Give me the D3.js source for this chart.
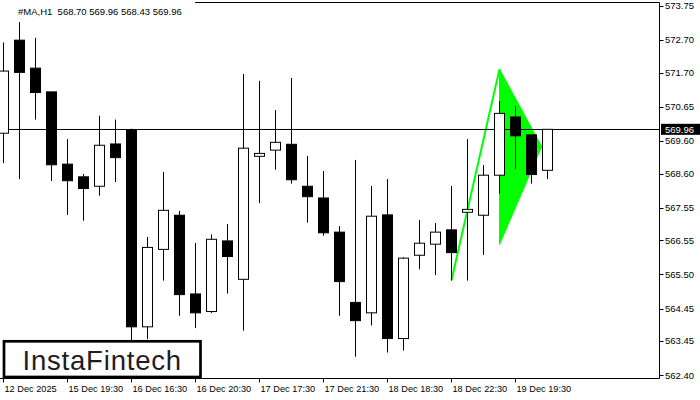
<!DOCTYPE html>
<html>
<head>
<meta charset="utf-8">
<script src="https://cdn.jsdelivr.net/npm/d3@7"></script>
<style>
  html, body { margin: 0; padding: 0; background: #fff; }
  svg { display: block; }
  text { font-family: "Liberation Sans", Arial, sans-serif; }
</style>
</head>
<body>
<div id="chart"></div>
<script>
// ---- data (H1 candles, left to right) ----
const opens  = [569.84,572.70,571.84,571.11,568.89,568.50,568.21,569.51,569.95,563.89,566.27,567.32,564.90,564.36,566.53,565.35,569.13,569.32,569.50,568.21,567.85,566.80,564.64,564.32,567.33,563.53,566.09,566.43,566.87,567.41,567.32,568.55,570.34,569.79,568.70];
const highs  = [572.63,573.26,572.77,571.11,569.66,568.59,570.38,570.26,569.98,566.65,568.65,567.45,566.47,566.73,567.05,571.66,571.45,570.55,571.54,569.14,568.68,566.99,569.02,568.22,568.43,566.03,567.17,567.08,568.22,569.66,568.86,570.83,570.68,569.79,569.96];
const lows   = [568.92,568.43,570.26,568.37,567.33,567.15,567.92,568.34,563.45,563.51,565.31,564.23,563.85,564.31,564.91,563.77,567.69,568.72,568.29,567.09,566.69,564.23,562.97,563.93,563.10,563.16,565.66,565.48,565.31,565.31,566.10,567.99,568.75,568.29,568.43];
const closes = [571.75,571.71,571.09,568.87,568.38,568.14,569.47,569.09,563.89,566.33,567.47,564.88,564.32,566.58,566.05,569.38,569.22,569.56,568.41,567.89,566.78,565.28,564.08,567.29,563.53,566.00,566.46,566.80,566.17,567.50,568.55,570.45,569.76,568.57,569.96];

const xTickIndex  = [0, 4, 8, 12, 16, 20, 24, 28, 32];
const xTickLabels = ["12 Dec 2025","15 Dec 19:30","16 Dec 16:30","16 Dec 20:30","17 Dec 17:30","17 Dec 21:30","18 Dec 18:30","18 Dec 22:30","19 Dec 19:30"];
const yTicks = [573.75,572.70,571.70,570.65,569.60,568.60,567.55,566.55,565.50,564.45,563.45,562.40];

const currentPrice = 569.96;
const headerText = "#MA,H1  568.70 569.96 568.43 569.96";
const logoText = "InstaFintech";

// pennant pattern (bar index, price)
const poleIdx   = [28, 31];
const polePrice = [565.32, 571.81];
const flagIdx   = [31, 33.64, 31];
const flagPrice = [571.81, 569.43, 566.42];

// ---- layout ----
const W = 700, H = 400;
const plotRight = 659.5, plotBottom = 378.5, plotTop = 2.5;

const svg = d3.select("#chart").append("svg").attr("width", W).attr("height", H);

const x = d3.scaleLinear().domain([0, 34]).range([3.5, 547.5]);
const y = d3.scaleLinear().domain([562.40, 573.75]).range([375.3, 6]);

const candles = opens.map((o, i) => ({i, o, h: highs[i], l: lows[i], c: closes[i]}));

svg.append("defs").append("clipPath").attr("id", "plotclip")
  .append("rect").attr("x", 0).attr("y", 0).attr("width", plotRight).attr("height", plotBottom);

const plot = svg.append("g").attr("clip-path", "url(#plotclip)");

// pennant fill
const flagPts = flagIdx.map((d, k) => [x(d), y(flagPrice[k])]);
plot.append("path")
  .attr("d", d3.line()(flagPts) + "Z")
  .attr("fill", "#00ff00").attr("stroke", "#00ff00").attr("stroke-width", 1);

// pole
const polePts = poleIdx.map((d, k) => [x(d), y(polePrice[k])]);
plot.append("path")
  .attr("d", d3.line()(polePts))
  .attr("fill", "none").attr("stroke", "#00ff00").attr("stroke-width", 2);

// price line
plot.append("line")
  .attr("x1", 0).attr("x2", plotRight)
  .attr("y1", Math.round(y(currentPrice)) + 0.5).attr("y2", Math.round(y(currentPrice)) + 0.5)
  .attr("stroke", "#000").attr("stroke-width", 1);

// candles
const cg = plot.append("g").selectAll("g").data(candles).join("g");
cg.append("line")
  .attr("x1", d => x(d.i)).attr("x2", d => x(d.i))
  .attr("y1", d => y(d.h)).attr("y2", d => y(d.l))
  .attr("stroke", "#000").attr("stroke-width", 1);
cg.append("rect")
  .attr("x", d => x(d.i) - 5)
  .attr("width", 10)
  .attr("y", d => y(Math.max(d.o, d.c)))
  .attr("height", d => Math.max(1, Math.abs(y(d.o) - y(d.c))))
  .attr("fill", d => d.c >= d.o ? "#fff" : "#000")
  .attr("stroke", "#000").attr("stroke-width", 1);

// frame
svg.append("line").attr("x1", 195).attr("x2", plotRight).attr("y1", plotTop).attr("y2", plotTop)
  .attr("stroke", "#000").attr("stroke-width", 1);
svg.append("line").attr("x1", plotRight).attr("x2", plotRight).attr("y1", plotTop).attr("y2", plotBottom)
  .attr("stroke", "#000").attr("stroke-width", 1);
svg.append("line").attr("x1", 0).attr("x2", plotRight).attr("y1", plotBottom).attr("y2", plotBottom)
  .attr("stroke", "#000").attr("stroke-width", 1);

// y axis (right)
const yAxis = svg.append("g");
yTicks.forEach(v => {
  const yy = Math.round(y(v)) + 0.5;
  yAxis.append("line").attr("x1", plotRight).attr("x2", plotRight + 4).attr("y1", yy).attr("y2", yy)
    .attr("stroke", "#000");
  yAxis.append("text").attr("x", 665).attr("y", y(v)).attr("dy", "0.35em")
    .attr("font-size", "9.5px").attr("fill", "#000").text(d3.format(".2f")(v));
});

// current price label
const cpy = y(currentPrice);
svg.append("rect").attr("x", 661).attr("y", cpy - 5.5).attr("width", 39).attr("height", 11).attr("fill", "#000");
svg.append("text").attr("x", 665).attr("y", cpy).attr("dy", "0.35em")
  .attr("font-size", "9.5px").attr("fill", "#fff").text(d3.format(".2f")(currentPrice));

// x axis
const xAxis = svg.append("g");
xTickIndex.forEach((idx, k) => {
  const xx = Math.round(x(idx)) - 0.5;
  xAxis.append("line").attr("x1", xx).attr("x2", xx).attr("y1", plotBottom).attr("y2", plotBottom + 4)
    .attr("stroke", "#000");
  xAxis.append("text").attr("x", xx + 1).attr("y", 391.5)
    .attr("font-size", "9.2px").attr("fill", "#000").text(xTickLabels[k]);
});

// header
svg.append("text").attr("x", 18).attr("y", 14.5)
  .attr("font-size", "9.5px").attr("fill", "#000")
  .style("white-space", "pre").attr("xml:space", "preserve")
  .text(headerText);

// logo
svg.append("rect").attr("x", 4).attr("y", 341.3).attr("width", 196.5).attr("height", 35.7)
  .attr("fill", "#fff").attr("stroke", "#000").attr("stroke-width", 2.7);
svg.append("text").attr("x", 22.5).attr("y", 369.5)
  .attr("font-family", "Inter, 'Open Sans', sans-serif")
  .attr("font-size", "27.5px").attr("font-weight", 500).attr("fill", "#1e1e1e")
  .attr("letter-spacing", "0.8px")
  .text(logoText);
</script>
</body>
</html>
